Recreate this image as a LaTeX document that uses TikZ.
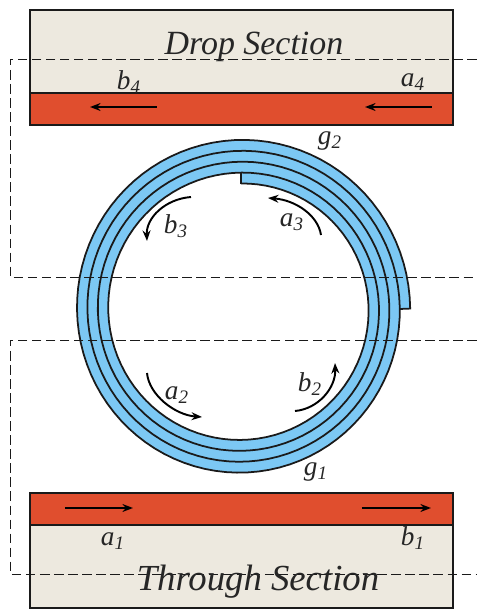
\documentclass[tikz,border=0pt]{standalone}
\usepackage{fontspec}
\setmainfont{Liberation Serif}
\usetikzlibrary{arrows.meta}
\definecolor{ringBlue}{HTML}{7CC8F4}
\definecolor{guideRed}{HTML}{E04E2E}
\definecolor{portBeige}{HTML}{EDE9DF}
\definecolor{lineDark}{HTML}{1A1A1A}
\newcommand{\ringX}[1]{(125+10.4*(#1))}
\newcommand{\ringY}[1]{(125.5+10.9*(#1))}
\begin{document}
\begin{tikzpicture}[x=0.02cm,y=0.02cm,
  port/.style={draw=lineDark,line width=1.6pt,fill=portBeige},
  guide/.style={draw=lineDark,line width=1.2pt,fill=guideRed},
  flow/.style={-{Stealth[length=6pt,width=4.5pt]},line width=1.1pt,black},
  guideline/.style={line width=0.5pt,lineDark,dash pattern=on 5.5pt off 2.5pt},
  lab/.style={font=\fontsize{15.5}{15.5}\selectfont\itshape,text=black!85,inner sep=0pt},
  title/.style={font=\fontsize{19.3}{19.3}\selectfont\itshape,text=black!85,inner sep=0pt}]
  \useasboundingbox (0,0) rectangle (477,610);
  % straight guides, y counted from the bottom edge
  \draw[port] (30,517) rectangle (453,600);
  \draw[guide] (30,485) rectangle (453,517);
  \draw[guide] (30,85) rectangle (453,117);
  \draw[port] (30,2) rectangle (453,85);
  % spiral ring
  \fill[ringBlue] plot[domain=0:3.25,samples=200,variable=\t]
      ({241+\ringX{\t}*sin(360*\t)},{301+\ringY{\t}*cos(360*\t)})
    -- plot[domain=4.25:1,samples=200,variable=\t]
      ({241+\ringX{\t}*sin(360*\t)},{301+\ringY{\t}*cos(360*\t)}) -- cycle;
  \draw[lineDark,line width=1pt] plot[domain=0:4.25,samples=400,variable=\t]
      ({241+\ringX{\t}*sin(360*\t)},{301+\ringY{\t}*cos(360*\t)})
      -- (241+125+10.4*3.25,301);
  \draw[lineDark,line width=1pt] (241,301+125.5) -- (241,301+125.5+10.9);
  % dashed power lines
  \draw[guideline] (477,551) -- (10,551) -- (10,333) -- (477,333);
  \draw[guideline] (477,270) -- (10,270) -- (10,36) -- (477,36);
  % arrows in the guides
  \draw[flow] (157,503) -- (90,503);
  \draw[flow] (432,503) -- (365,503);
  \draw[flow] (65,102) -- (133,102);
  \draw[flow] (362,102) -- (431,102);
  % arrows in the ring
  \draw[flow] (321,375) .. controls (318,395) and (295,410) .. (268,412);
  \draw[flow] (191,413) .. controls (165,411) and (146,392) .. (147,369);
  \draw[flow] (147,237) .. controls (149,215) and (175,195) .. (202,193);
  \draw[flow] (295,199) .. controls (318,201) and (336,222) .. (335,247);
  % labels
  \node[title] (drop) at (254,563) {Drop Section};
  \node[title,font=\fontsize{20.9}{20.9}\selectfont\itshape] (through) at (258,28) {Through Section};
  \node[lab] (b4) at (129,528) {b\textsubscript{4}};
  \node[lab] (a4) at (413,528) {a\textsubscript{4}};
  \node[lab] (g2) at (330,469) {g\textsubscript{2}};
  \node[lab] (b3) at (176,384) {b\textsubscript{3}};
  \node[lab] (a3) at (292,388) {a\textsubscript{3}};
  \node[lab] (a2) at (177,215) {a\textsubscript{2}};
  \node[lab] (b2) at (310,226) {b\textsubscript{2}};
  \node[lab] (g1) at (316,138) {g\textsubscript{1}};
  \node[lab] (a1) at (113,69) {a\textsubscript{1}};
  \node[lab] (b1) at (413,72) {b\textsubscript{1}};
\end{tikzpicture}
\end{document}
